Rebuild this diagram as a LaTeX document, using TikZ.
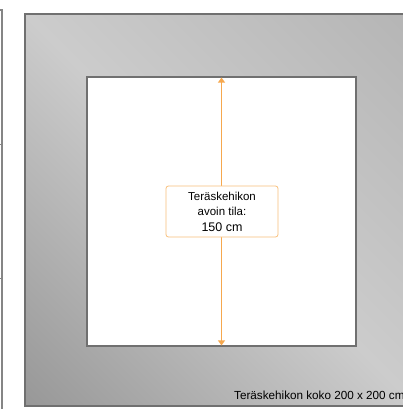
\documentclass[tikz,border=0pt]{standalone}
\usepackage{fontspec}
\setmainfont{Liberation Sans}
\usepackage{tikz}
\usetikzlibrary{arrows.meta}

\definecolor{frameedge}{HTML}{707070}
\definecolor{steeldark}{HTML}{828282}
\definecolor{steellight}{HTML}{CCCCCC}
\definecolor{steelmid}{HTML}{ABABAB}
\definecolor{measure}{HTML}{F6A84E}
\definecolor{labeledge}{HTML}{F9C07A}

\pgfdeclarehorizontalshading{steelshade}{100bp}{color(0bp)=(steeldark); color(50bp)=(steellight); color(100bp)=(steelmid)}

\tikzset{
  frame/.style={draw=frameedge, line width=1.2pt, shading=steelshade, shading angle=45, inner sep=0pt},
  opening/.style={draw=frameedge, line width=1.2pt, fill=white, inner sep=0pt},
  measurebox/.style={draw=labeledge, line width=0.8pt, fill=white, rounded corners=2.5pt, align=center, inner sep=0pt,
    font=\fontsize{11.5}{15.5}\selectfont}
}

\begin{document}
\begin{tikzpicture}[x=1pt, y=-1pt]
    \clip (0,0) rectangle (403,409);

    % edge of the neighbouring frame
    \draw[frameedge!85, line width=2pt] (-5,10) -- (1.5,10) -- (1.5,415);
    \draw[frameedge!85, line width=1pt] (0,144) -- (3,144);
    \draw[frameedge!85, line width=1pt] (0,278) -- (3,278);

    \node[frame, minimum width=392pt, minimum height=392pt] at (221, 210) (kehys) {};
    \node[opening, minimum width=269pt, minimum height=269pt] at (221.5, 211.5) (aukko) {};

    \draw[measure, line width=1.7pt, {Triangle[width=7pt,length=5pt]}-{Triangle[width=7pt,length=5pt]}, shorten <=1.2pt, shorten >=1.2pt] (aukko.north) -- (aukko.south);

    \node[measurebox, minimum width=112pt, minimum height=51pt] at (222, 211.5) (mitta)
        {Teräskehikon\\ avoin tila:\\ {\fontsize{12.5}{15.5}\selectfont 150 cm}};

    \node[anchor=base west, inner sep=0pt, font=\fontsize{11.7}{14}\selectfont] at (234, 399) (koko) {Teräskehikon koko 200 x 200 cm};
\end{tikzpicture}
\end{document}
